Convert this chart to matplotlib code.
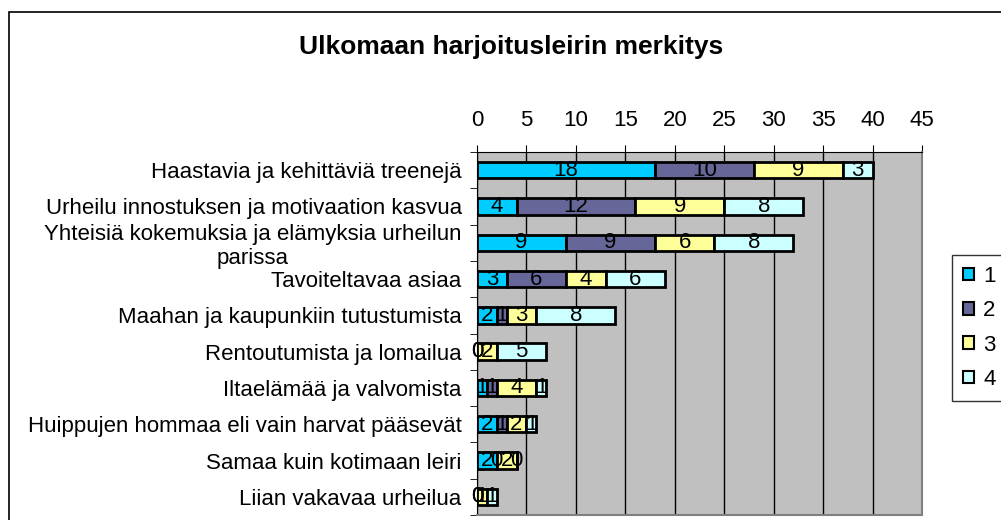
import matplotlib.pyplot as plt
import matplotlib.patches as mpatches
import numpy as np

# ---------- Data ----------
categories = [
    "Haastavia ja kehittäviä treenejä",
    "Urheilu innostuksen ja motivaation kasvua",
    "Yhteisiä kokemuksia ja elämyksia urheilun\nparissa",
    "Tavoiteltavaa asiaa",
    "Maahan ja kaupunkiin tutustumista",
    "Rentoutumista ja lomailua",
    "Iltaelämää ja valvomista",
    "Huippujen hommaa eli vain harvat pääsevät",
    "Samaa kuin kotimaan leiri",
    "Liian vakavaa urheilua",
]
series_names = ["1", "2", "3", "4"]
s1 = [18, 4, 9, 3, 2, 0, 1, 2, 2, 0]
s2 = [10, 12, 9, 6, 1, 0, 1, 1, 0, 0]
s3 = [9, 9, 6, 4, 3, 2, 4, 2, 2, 1]
s4 = [3, 8, 8, 6, 8, 5, 1, 1, 0, 1]
colors = ["#00CCFF", "#666699", "#FFFF99", "#CCFFFF"]
xticks = list(range(0, 50, 5))
title = "Ulkomaan harjoitusleirin merkitys"
# --------------------------

plt.rcParams['font.family'] = ['Liberation Sans', 'DejaVu Sans']
FS = 16

fig = plt.figure(figsize=(10.01, 5.2), dpi=100)
W, H = 1001, 520
ax = fig.add_axes([477 / W, 1 - 515 / H, (922 - 477) / W, (515 - 152) / H])
ax.set_facecolor("#C0C0C0")

# outer chart border
fig.patches.append(mpatches.Rectangle((9 / W, -0.05), 1.05, 1 - 12 / H + 0.05,
                                      transform=fig.transFigure, fill=False,
                                      edgecolor="black", linewidth=1.2))

y = np.arange(len(categories))
left = np.zeros(len(categories))
for vals, c, name in zip([s1, s2, s3, s4], colors, series_names):
    vals = np.array(vals, dtype=float)
    ax.barh(y, vals, left=left, height=0.45, color=c, edgecolor="black",
            linewidth=2, label=name, zorder=3)
    for yi, (l, v) in enumerate(zip(left, vals)):
        ax.text(l + v / 2, yi, f"{int(v)}", ha="center", va="center",
                fontsize=FS, zorder=4)
    left += vals

ax.set_xlim(0, 45)
ax.set_ylim(len(categories) - 0.5, -0.5)
ax.set_xticks(xticks)
ax.xaxis.tick_top()
ax.tick_params(axis="x", labelsize=FS, length=5, pad=10)
ax.grid(axis="x", color="black", linewidth=1, zorder=1)
ax.set_axisbelow(True)

ax.set_yticks(y)
ax.set_yticklabels(categories, fontsize=FS, ha="right", multialignment="center")
ax.set_yticks(np.arange(len(categories) + 1) - 0.5, minor=True)
ax.tick_params(axis="y", which="major", length=0, pad=11)
ax.tick_params(axis="y", which="minor", length=5)

for side in ["top", "left"]:
    ax.spines[side].set_color("black")
for side in ["right", "bottom"]:
    ax.spines[side].set_color("#808080")
    ax.spines[side].set_linewidth(1.5)

fig.text(511 / W, 1 - 47 / H, title, ha="center", va="center", fontsize=19,
         fontweight="bold")

handles = [mpatches.Patch(facecolor=c, edgecolor="black", linewidth=1.5)
           for c in colors]
leg = fig.legend(handles, series_names, loc="center left",
                 bbox_to_anchor=(952 / W, 1 - 328 / H), fontsize=FS,
                 frameon=True, fancybox=False, edgecolor="black",
                 handlelength=0.5, handleheight=0.5, handletextpad=0.4,
                 labelspacing=0.6, borderpad=0.5, borderaxespad=0)
leg.get_frame().set_linewidth(1)

fig.savefig("out.png", dpi=100)
